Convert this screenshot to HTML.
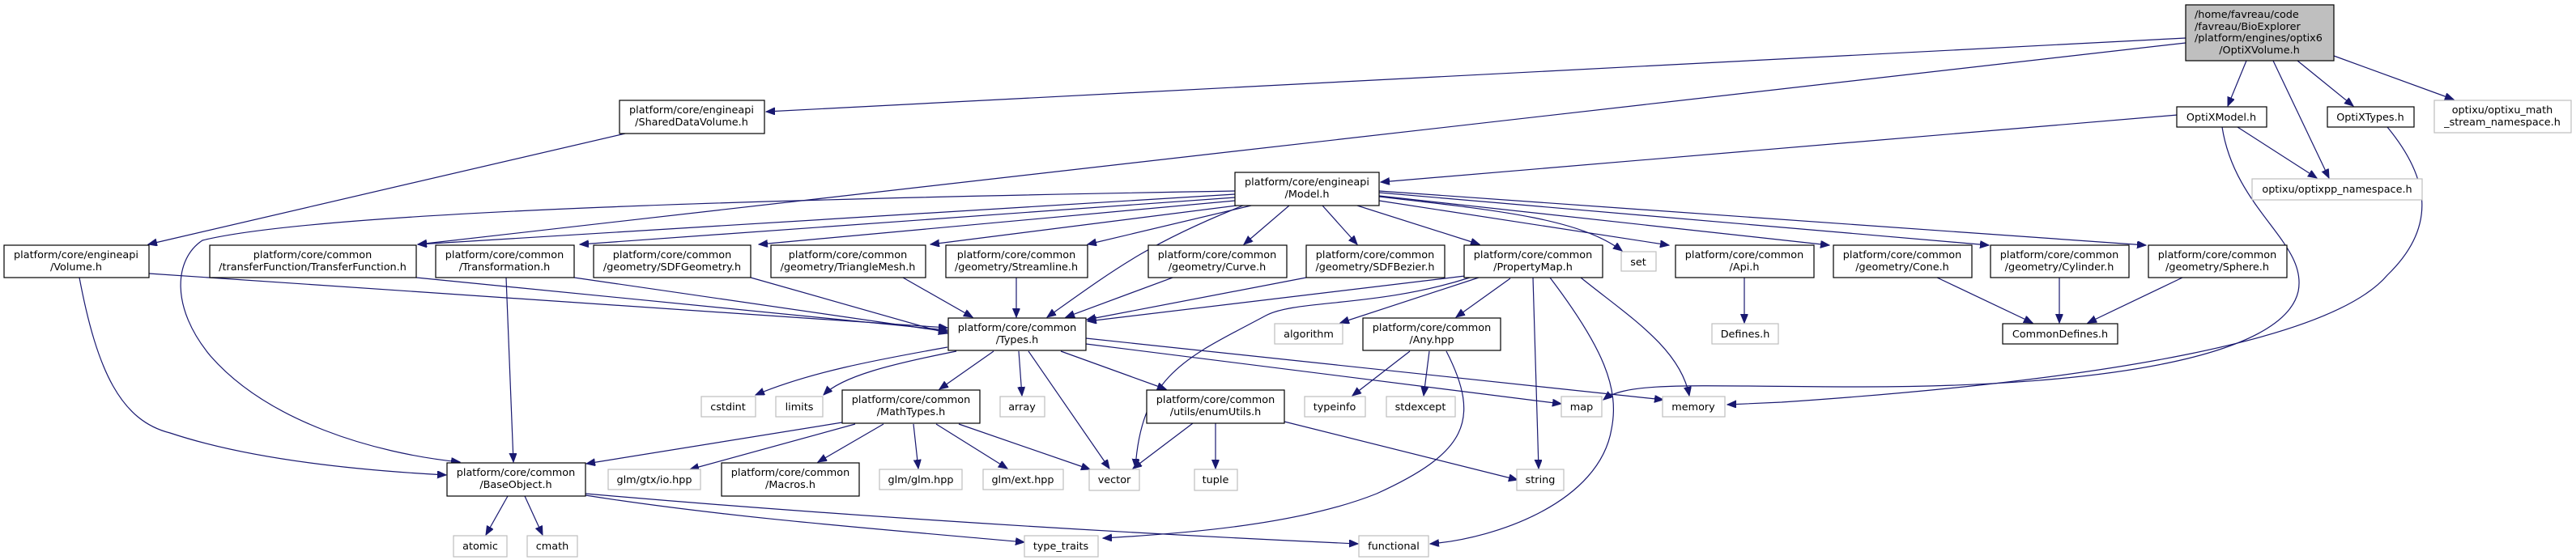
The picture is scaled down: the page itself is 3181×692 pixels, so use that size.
<!DOCTYPE html>
<html><head><meta charset="utf-8"><style>
html,body{margin:0;padding:0;background:#fff;}
svg{display:block;}
text{font-family:"DejaVu Sans","Liberation Sans",sans-serif;font-size:12.8px;fill:#000;}
.n{fill:#fff;stroke:#000;stroke-width:1.2;}
.x{fill:#fff;stroke:#bfbfbf;stroke-width:1.2;}
.e{fill:none;stroke:#191970;stroke-width:1.2;marker-end:url(#a);}
</style></head><body>
<svg width="3181" height="692" viewBox="0 0 3181 692" xmlns="http://www.w3.org/2000/svg">
<defs><marker id="a" markerUnits="userSpaceOnUse" markerWidth="12" markerHeight="10" refX="11" refY="4.5" orient="auto"><path d="M0,0 L11,4.5 L0,9 z" fill="#191970" stroke="#191970"/></marker></defs>
<g text-anchor="middle">
<!-- edges -->
<path class="e" d="M2699,47 L946,138"/>
<path class="e" d="M2699,53 L516,302"/>
<path class="e" d="M2774,75 L2751,131"/>
<path class="e" d="M2807,75 L2876,220"/>
<path class="e" d="M2837,75 L2906,131"/>
<path class="e" d="M2882,69 L3030,123"/>
<path class="e" d="M2689,142 L1705,225"/>
<path class="e" d="M2763,157 L2861,220"/>
<path class="e" d="M2744,157 C2760,260 2850,300 2838,360 C2820,440 2600,478 2300,478 C2100,478 2010,470 1980,494"/>
<path class="e" d="M2948,157 C3000,220 3010,280 2948,340 C2880,420 2600,470 2200,497 L2133,500"/>
<path class="e" d="M1525,236 C1000,245 400,260 250,297 C215,320 210,380 260,440 C330,520 460,560 568,571"/>
<path class="e" d="M1525,240 L516,302"/>
<path class="e" d="M1525,244 L716,302"/>
<path class="e" d="M1525,248 L937,302"/>
<path class="e" d="M1527,254 L1149,302"/>
<path class="e" d="M1545,254 L1343,302"/>
<path class="e" d="M1592,254 L1536,302"/>
<path class="e" d="M1633,254 L1676,302"/>
<path class="e" d="M1676,254 L1827,302"/>
<path class="e" d="M1703,243 C1850,260 1950,270 2003,310"/>
<path class="e" d="M1703,248 L2061,303"/>
<path class="e" d="M1703,242 L2259,303"/>
<path class="e" d="M1703,238 L2456,303"/>
<path class="e" d="M1703,236 L2650,303"/>
<path class="e" d="M1535,254 C1420,300 1380,330 1293,392"/>
<path class="e" d="M98,343 C120,460 150,520 210,535 C300,565 420,580 551,587"/>
<path class="e" d="M184,338 L1170,405"/>
<path class="e" d="M772,165 L183,302"/>
<path class="e" d="M514,343 L1170,408"/>
<path class="e" d="M709,343 L1170,410"/>
<path class="e" d="M625,343 L634,571"/>
<path class="e" d="M927,343 L1170,412"/>
<path class="e" d="M1115,343 L1201,392"/>
<path class="e" d="M1255,343 L1255,392"/>
<path class="e" d="M1448,343 L1316,392"/>
<path class="e" d="M1613,343 L1342,395"/>
<path class="e" d="M1809,341 L1343,397"/>
<path class="e" d="M1826,343 L1655,399"/>
<path class="e" d="M1815,343 C1700,380 1600,370 1563,390 C1470,440 1410,460 1402,578"/>
<path class="e" d="M1865,344 L1798,392"/>
<path class="e" d="M1893,343 L1900,579"/>
<path class="e" d="M1914,343 C1980,430 2000,480 1990,530 C1975,620 1850,665 1766,672"/>
<path class="e" d="M1952,343 C2010,390 2075,430 2086,489"/>
<path class="e" d="M2154,343 L2154,399"/>
<path class="e" d="M2392,343 L2510,399"/>
<path class="e" d="M2543,343 L2543,399"/>
<path class="e" d="M2695,343 L2578,399"/>
<path class="e" d="M1170,429 C1080,445 1000,460 933,488"/>
<path class="e" d="M1181,434 C1100,450 1040,465 1017,488"/>
<path class="e" d="M1227,434 L1160,481"/>
<path class="e" d="M1258,434 L1262,489"/>
<path class="e" d="M1270,434 L1370,579"/>
<path class="e" d="M1310,434 L1440,481"/>
<path class="e" d="M1341,425 L1928,499"/>
<path class="e" d="M1341,418 L2054,494"/>
<path class="e" d="M1040,522 L724,573"/>
<path class="e" d="M1056,524 L852,580"/>
<path class="e" d="M1091,524 L1010,571"/>
<path class="e" d="M1128,524 L1134,579"/>
<path class="e" d="M1156,524 L1244,579"/>
<path class="e" d="M1184,524 L1346,580"/>
<path class="e" d="M1473,523 L1399,579"/>
<path class="e" d="M1501,523 L1501,579"/>
<path class="e" d="M1586,521 L1874,593"/>
<path class="e" d="M1741,434 L1670,489"/>
<path class="e" d="M1765,434 L1758,489"/>
<path class="e" d="M1786,434 C1830,520 1810,560 1700,610 C1600,650 1450,660 1362,665"/>
<path class="e" d="M627,613 L600,661"/>
<path class="e" d="M648,613 L670,661"/>
<path class="e" d="M723,612 C900,640 1100,655 1265,670"/>
<path class="e" d="M723,610 C950,630 1300,655 1677,672"/>
<!-- nodes -->
<rect x="2699" y="6" width="183" height="69" fill="#bfbfbf" stroke="#000" stroke-width="1.2"/>
<text x="2710" y="22" text-anchor="start">/home/favreau/code</text>
<text x="2710" y="37" text-anchor="start">/favreau/BioExplorer</text>
<text x="2710" y="51" text-anchor="start">/platform/engines/optix6</text>
<text x="2790" y="66">/OptiXVolume.h</text>

<rect class="n" x="765" y="124" width="179" height="41"/><text x="854" y="140">platform/core/engineapi</text><text x="854" y="155">/SharedDataVolume.h</text>
<rect class="n" x="2688" y="132" width="111" height="25"/><text x="2743" y="149">OptiXModel.h</text>
<rect class="n" x="2874" y="132" width="107" height="25"/><text x="2927" y="149">OptiXTypes.h</text>
<rect class="x" x="3006" y="124" width="169" height="40"/><text x="3090" y="140">optixu/optixu_math</text><text x="3090" y="155">_stream_namespace.h</text>
<rect class="x" x="2781" y="221" width="210" height="26"/><text x="2886" y="238">optixu/optixpp_namespace.h</text>
<rect class="n" x="1525" y="213" width="178" height="41"/><text x="1614" y="229">platform/core/engineapi</text><text x="1614" y="244">/Model.h</text>

<rect class="n" x="5" y="303" width="179" height="40"/><text x="94" y="319">platform/core/engineapi</text><text x="94" y="334">/Volume.h</text>
<rect class="n" x="259" y="303" width="255" height="40"/><text x="386" y="319">platform/core/common</text><text x="386" y="334">/transferFunction/TransferFunction.h</text>
<rect class="n" x="538" y="303" width="171" height="40"/><text x="623" y="319">platform/core/common</text><text x="623" y="334">/Transformation.h</text>
<rect class="n" x="733" y="303" width="194" height="40"/><text x="830" y="319">platform/core/common</text><text x="830" y="334">/geometry/SDFGeometry.h</text>
<rect class="n" x="952" y="303" width="191" height="40"/><text x="1047" y="319">platform/core/common</text><text x="1047" y="334">/geometry/TriangleMesh.h</text>
<rect class="n" x="1168" y="303" width="175" height="40"/><text x="1255" y="319">platform/core/common</text><text x="1255" y="334">/geometry/Streamline.h</text>
<rect class="n" x="1418" y="303" width="171" height="40"/><text x="1503" y="319">platform/core/common</text><text x="1503" y="334">/geometry/Curve.h</text>
<rect class="n" x="1613" y="303" width="171" height="40"/><text x="1698" y="319">platform/core/common</text><text x="1698" y="334">/geometry/SDFBezier.h</text>
<rect class="n" x="1808" y="303" width="171" height="40"/><text x="1893" y="319">platform/core/common</text><text x="1893" y="334">/PropertyMap.h</text>
<rect class="x" x="2002" y="311" width="43" height="24"/><text x="2023" y="328">set</text>
<rect class="n" x="2069" y="303" width="171" height="40"/><text x="2154" y="319">platform/core/common</text><text x="2154" y="334">/Api.h</text>
<rect class="n" x="2264" y="303" width="171" height="40"/><text x="2349" y="319">platform/core/common</text><text x="2349" y="334">/geometry/Cone.h</text>
<rect class="n" x="2458" y="303" width="171" height="40"/><text x="2543" y="319">platform/core/common</text><text x="2543" y="334">/geometry/Cylinder.h</text>
<rect class="n" x="2653" y="303" width="171" height="40"/><text x="2738" y="319">platform/core/common</text><text x="2738" y="334">/geometry/Sphere.h</text>

<rect class="n" x="1171" y="393" width="170" height="40"/><text x="1256" y="409">platform/core/common</text><text x="1256" y="424">/Types.h</text>
<rect class="x" x="1574" y="400" width="84" height="25"/><text x="1616" y="417">algorithm</text>
<rect class="n" x="1683" y="393" width="170" height="40"/><text x="1768" y="409">platform/core/common</text><text x="1768" y="424">/Any.hpp</text>
<rect class="x" x="2114" y="400" width="82" height="25"/><text x="2155" y="417">Defines.h</text>
<rect class="n" x="2473" y="400" width="142" height="25"/><text x="2544" y="417">CommonDefines.h</text>

<rect class="x" x="866" y="490" width="67" height="25"/><text x="899" y="507">cstdint</text>
<rect class="x" x="958" y="490" width="58" height="25"/><text x="987" y="507">limits</text>
<rect class="n" x="1040" y="482" width="170" height="41"/><text x="1125" y="498">platform/core/common</text><text x="1125" y="513">/MathTypes.h</text>
<rect class="x" x="1235" y="490" width="55" height="25"/><text x="1262" y="507">array</text>
<rect class="n" x="1416" y="482" width="170" height="41"/><text x="1501" y="498">platform/core/common</text><text x="1501" y="513">/utils/enumUtils.h</text>
<rect class="x" x="1611" y="490" width="75" height="25"/><text x="1648" y="507">typeinfo</text>
<rect class="x" x="1712" y="490" width="85" height="25"/><text x="1754" y="507">stdexcept</text>
<rect class="x" x="1928" y="490" width="50" height="25"/><text x="1953" y="507">map</text>
<rect class="x" x="2053" y="490" width="77" height="25"/><text x="2091" y="507">memory</text>

<rect class="n" x="552" y="572" width="171" height="41"/><text x="637" y="588">platform/core/common</text><text x="637" y="603">/BaseObject.h</text>
<rect class="x" x="751" y="580" width="114" height="25"/><text x="808" y="597">glm/gtx/io.hpp</text>
<rect class="n" x="891" y="572" width="170" height="41"/><text x="976" y="588">platform/core/common</text><text x="976" y="603">/Macros.h</text>
<rect class="x" x="1086" y="580" width="102" height="25"/><text x="1137" y="597">glm/glm.hpp</text>
<rect class="x" x="1214" y="580" width="99" height="25"/><text x="1263" y="597">glm/ext.hpp</text>
<rect class="x" x="1345" y="580" width="62" height="26"/><text x="1376" y="597">vector</text>
<rect class="x" x="1475" y="580" width="53" height="26"/><text x="1501" y="597">tuple</text>
<rect class="x" x="1873" y="580" width="58" height="26"/><text x="1902" y="597">string</text>

<rect class="x" x="560" y="662" width="66" height="26"/><text x="593" y="679">atomic</text>
<rect class="x" x="651" y="662" width="62" height="26"/><text x="682" y="679">cmath</text>
<rect class="x" x="1265" y="662" width="91" height="26"/><text x="1310" y="679">type_traits</text>
<rect class="x" x="1678" y="662" width="86" height="26"/><text x="1721" y="679">functional</text>
</g>
</svg>
</body></html>
